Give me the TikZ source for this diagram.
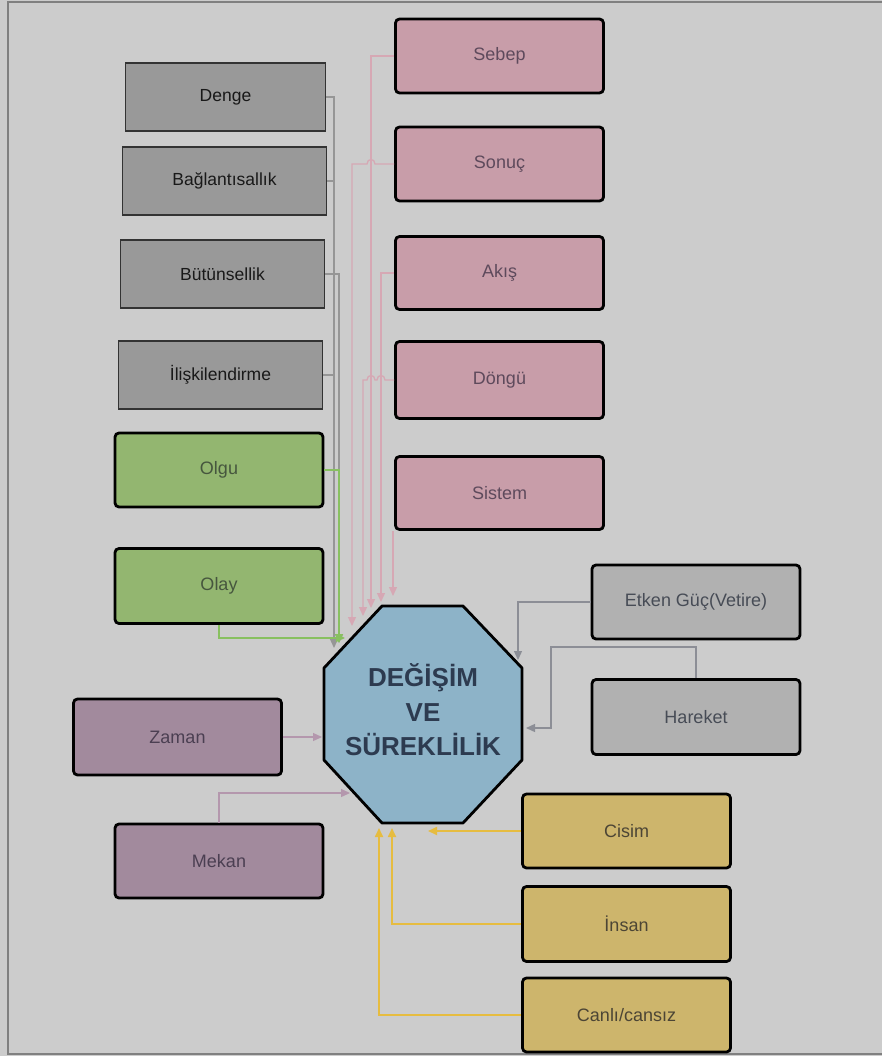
\documentclass[tikz,border=0pt]{standalone}
\usepackage{fontspec}
\setmainfont{Liberation Sans}
\usetikzlibrary{arrows.meta}
\definecolor{bgc}{HTML}{CCCCCC}
\definecolor{framec}{HTML}{808080}
\definecolor{grayfill}{HTML}{999999}
\definecolor{pinkfill}{HTML}{C89DA9}
\definecolor{pinktext}{HTML}{5E4A5C}
\definecolor{pinkline}{HTML}{D6A8B4}
\definecolor{greenfill}{HTML}{93B670}
\definecolor{greentext}{HTML}{46563E}
\definecolor{greenline}{HTML}{88C060}
\definecolor{rgrayfill}{HTML}{B1B1B1}
\definecolor{rgraytext}{HTML}{474C56}
\definecolor{rgrayline}{HTML}{8C8E96}
\definecolor{lgrayline}{HTML}{969696}
\definecolor{mauvefill}{HTML}{A28A9D}
\definecolor{mauvetext}{HTML}{4B3F52}
\definecolor{mauveline}{HTML}{B497AD}
\definecolor{yelfill}{HTML}{CDB56C}
\definecolor{yeltext}{HTML}{4C4535}
\definecolor{yelline}{HTML}{E6BC40}
\definecolor{octfill}{HTML}{8DB3C8}
\definecolor{octtext}{HTML}{2D3B50}
\tikzset{
  wh/.style 2 args={minimum width=#1pt, minimum height=#2pt},
  thickbox/.style={rectangle, draw=black, line width=2.8pt, rounded corners=4pt,
    inner sep=0pt, font=\fontsize{18}{20}\selectfont},
  lgraybox/.style={rectangle, draw=black!80, line width=1.2pt, fill=grayfill,
    inner sep=0pt, text=black!90, font=\fontsize{17.5}{20}\selectfont},
  pinkbox/.style={thickbox, fill=pinkfill, text=pinktext},
  greenbox/.style={thickbox, fill=greenfill, text=greentext},
  rgraybox/.style={thickbox, fill=rgrayfill, text=rgraytext},
  mauvebox/.style={thickbox, fill=mauvefill, text=mauvetext},
  yelbox/.style={thickbox, fill=yelfill, text=yeltext},
  arr/.style={-{Triangle[length=9pt,width=8pt]}},
  conn/.style={line width=1.3pt},
  yconn/.style={line width=1.7pt},
  octtxt/.style={text=octtext, font=\fontsize{26}{30}\selectfont\bfseries, anchor=base, inner sep=0pt}
}
\begin{document}
\begin{tikzpicture}[x=1pt,y=-1pt]
\useasboundingbox (0,0) rectangle (882,1056);
\fill[bgc] (0,0) rectangle (882,1056);
\draw[framec, line width=1.5pt] (8,2) rectangle (884,1054);

% left gray boxes
\node[lgraybox, wh={200}{68}] (denge) at (225.5,97) {Denge};
\node[lgraybox, wh={204}{68}] (bag) at (224.5,181) {Bağlantısallık};
\node[lgraybox, wh={204}{68}] (butun) at (222.5,274) {Bütünsellik};
\node[lgraybox, wh={204}{68}] (iliski) at (220.5,375) {İlişkilendirme};

% green boxes
\node[greenbox, wh={208}{74}] (olgu) at (219,470) {Olgu};
\node[greenbox, wh={208}{75}] (olay) at (219,586) {Olay};

% pink boxes
\node[pinkbox, wh={208}{74}] (sebep) at (499.5,56) {Sebep};
\node[pinkbox, wh={208}{74}] (sonuc) at (499.5,164) {Sonuç};
\node[pinkbox, wh={208}{73}] (akis) at (499.5,273) {Akış};
\node[pinkbox, wh={208}{77}] (dongu) at (499.5,380) {Döngü};
\node[pinkbox, wh={208}{73}] (sistem) at (499.5,493) {Sistem};

% right gray boxes
\node[rgraybox, wh={208}{74}] (etken) at (696,602) {Etken Güç(Vetire)};
\node[rgraybox, wh={208}{75}] (hareket) at (696,717) {Hareket};

% mauve boxes
\node[mauvebox, wh={208}{76}] (zaman) at (177.5,737) {Zaman};
\node[mauvebox, wh={208}{74}] (mekan) at (219,861) {Mekan};

% yellow boxes
\node[yelbox, wh={208}{74}] (cisim) at (626.5,831) {Cisim};
\node[yelbox, wh={208}{75}] (insan) at (626.5,924) {İnsan};
\node[yelbox, wh={208}{74}] (canli) at (626.5,1015) {Canlı/cansız};

% octagon
\draw[fill=octfill, line width=2.8pt, line join=round]
  (382,606) -- (463,606) -- (522,668) -- (522,760) -- (463,823) -- (382,823) -- (324,760) -- (324,668) -- cycle;
\node[octtxt] (t1) at (423,686) {DEĞİŞİM};
\node[octtxt] (t2) at (423,721) {VE};
\node[octtxt] (t3) at (423,755) {SÜREKLİLİK};

% end coordinates
\coordinate (eDenge) at (334,648);
\coordinate (eBut) at (339,643);
\coordinate (eOlgu) at (339,643);
\coordinate (eOlay) at (345,638);
\coordinate (eSonuc) at (352,626);
\coordinate (eDongu) at (363,616);
\coordinate (eSebep) at (371,608);
\coordinate (eAkis) at (381,602);
\coordinate (sSis) at (393,531);
\coordinate (eSis) at (393,596);
\coordinate (eEtken) at (518,660);
\coordinate (eHareket) at (526,728);
\coordinate (eZaman) at (322,737);
\coordinate (eMekan) at (350,793);
\coordinate (eCisim) at (428,831);
\coordinate (eInsan) at (392,828);
\coordinate (eCanli) at (379,828);

% left gray connectors
\draw[conn, lgrayline, arr] (denge.east) -- (334,97) -- (eDenge);
\draw[conn, lgrayline] (bag.east) -- (334,181);
\draw[conn, lgrayline] (iliski.east) -- (334,375);
\draw[conn, lgrayline, arr] (butun.east) -- (339,274) -- (eBut);

% green connectors
\draw[conn, greenline, arr] (olgu.east) -- (339,470) -- (eOlgu);
\draw[conn, greenline, arr] (olay.south) -- (219,638) -- (eOlay);

% pink connectors
\draw[conn, pinkline, arr] (sebep.west) -- (371,56) -- (eSebep);
\draw[conn, pinkline, arr] (sonuc.west) -- (375,164)
  .. controls (375,158) and (367,158) .. (367,164) -- (352,164) -- (eSonuc);
\draw[conn, pinkline, arr] (akis.west) -- (381,273) -- (eAkis);
\draw[conn, pinkline, arr] (dongu.west) -- (385,380)
  .. controls (385,374) and (377,374) .. (377,380) -- (375,380)
  .. controls (375,374) and (367,374) .. (367,380) -- (363,380) -- (eDongu);
\draw[conn, pinkline, arr] (sSis) -- (eSis);

% right gray connectors
\draw[conn, rgrayline, arr] (etken.west) -- (518,602) -- (eEtken);
\draw[conn, rgrayline, arr] (hareket.north) -- (696,647) -- (551,647) -- (551,728) -- (eHareket);

% mauve connectors
\draw[conn, mauveline, arr] (zaman.east) -- (eZaman);
\draw[conn, mauveline, arr] (mekan.north) -- (219,793) -- (eMekan);

% yellow connectors
\draw[yconn, yelline, arr] (cisim.west) -- (eCisim);
\draw[yconn, yelline, arr] (insan.west) -- (392,924) -- (eInsan);
\draw[yconn, yelline, arr] (canli.west) -- (379,1015) -- (eCanli);
\end{tikzpicture}
\end{document}
